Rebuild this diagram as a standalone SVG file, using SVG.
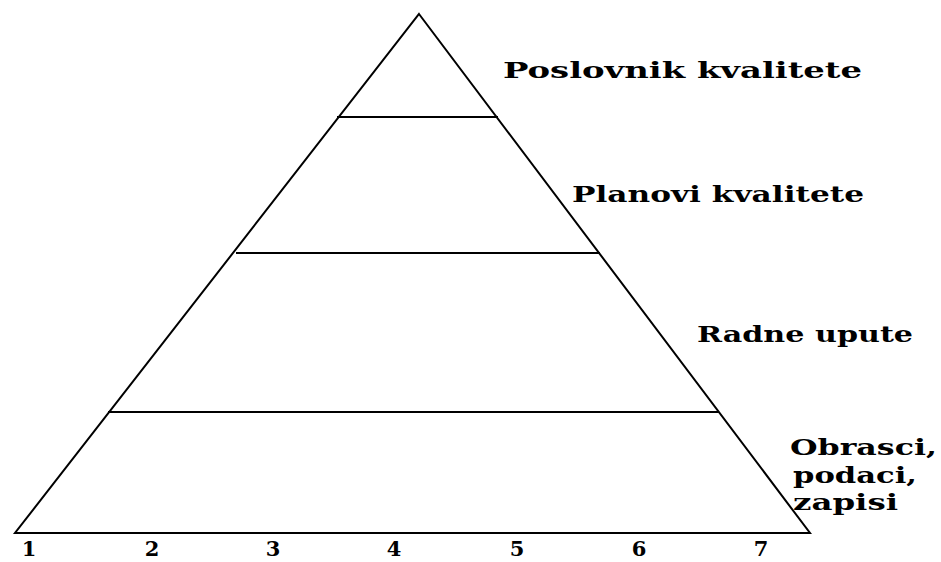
<svg xmlns="http://www.w3.org/2000/svg" width="941" height="562" viewBox="0 0 941 562">
<style>
.ln{stroke:#000;stroke-width:2;fill:none}
.t{font-family:"DejaVu Serif","Liberation Serif",serif;font-weight:bold;font-size:23px;fill:#000}
.n{font-family:"DejaVu Serif","Liberation Serif",serif;font-weight:bold;font-size:21px;fill:#000;text-anchor:middle}
</style>
<rect width="941" height="562" fill="#fff"/>
<g id="pyramid">
<polygon class="ln" points="419,14 810,533 15,533"/>
</g>
<g id="connectors">
<line class="ln" x1="337" y1="117" x2="498" y2="117"/>
<line class="ln" x1="236" y1="253" x2="600" y2="253"/>
<line class="ln" x1="108" y1="412" x2="719" y2="412"/>
</g>
<g id="level1"><text class="t" x="503" y="78" textLength="359" lengthAdjust="spacingAndGlyphs">Poslovnik kvalitete</text></g>
<g id="level2"><text class="t" x="572" y="202" textLength="292" lengthAdjust="spacingAndGlyphs">Planovi kvalitete</text></g>
<g id="level3"><text class="t" x="697" y="342" textLength="216" lengthAdjust="spacingAndGlyphs">Radne upute</text></g>
<g id="level4">
<text class="t" x="790" y="455" textLength="147" lengthAdjust="spacingAndGlyphs">Obrasci,</text>
<text class="t" x="793" y="483" textLength="124" lengthAdjust="spacingAndGlyphs">podaci,</text>
<text class="t" x="793" y="510" textLength="105" lengthAdjust="spacingAndGlyphs">zapisi</text>
</g>
<g id="scale">
<text class="n" x="29" y="556">1</text>
<text class="n" x="152" y="556">2</text>
<text class="n" x="273" y="556">3</text>
<text class="n" x="394" y="556">4</text>
<text class="n" x="517" y="556">5</text>
<text class="n" x="639" y="556">6</text>
<text class="n" x="761" y="556">7</text>
</g>
</svg>
